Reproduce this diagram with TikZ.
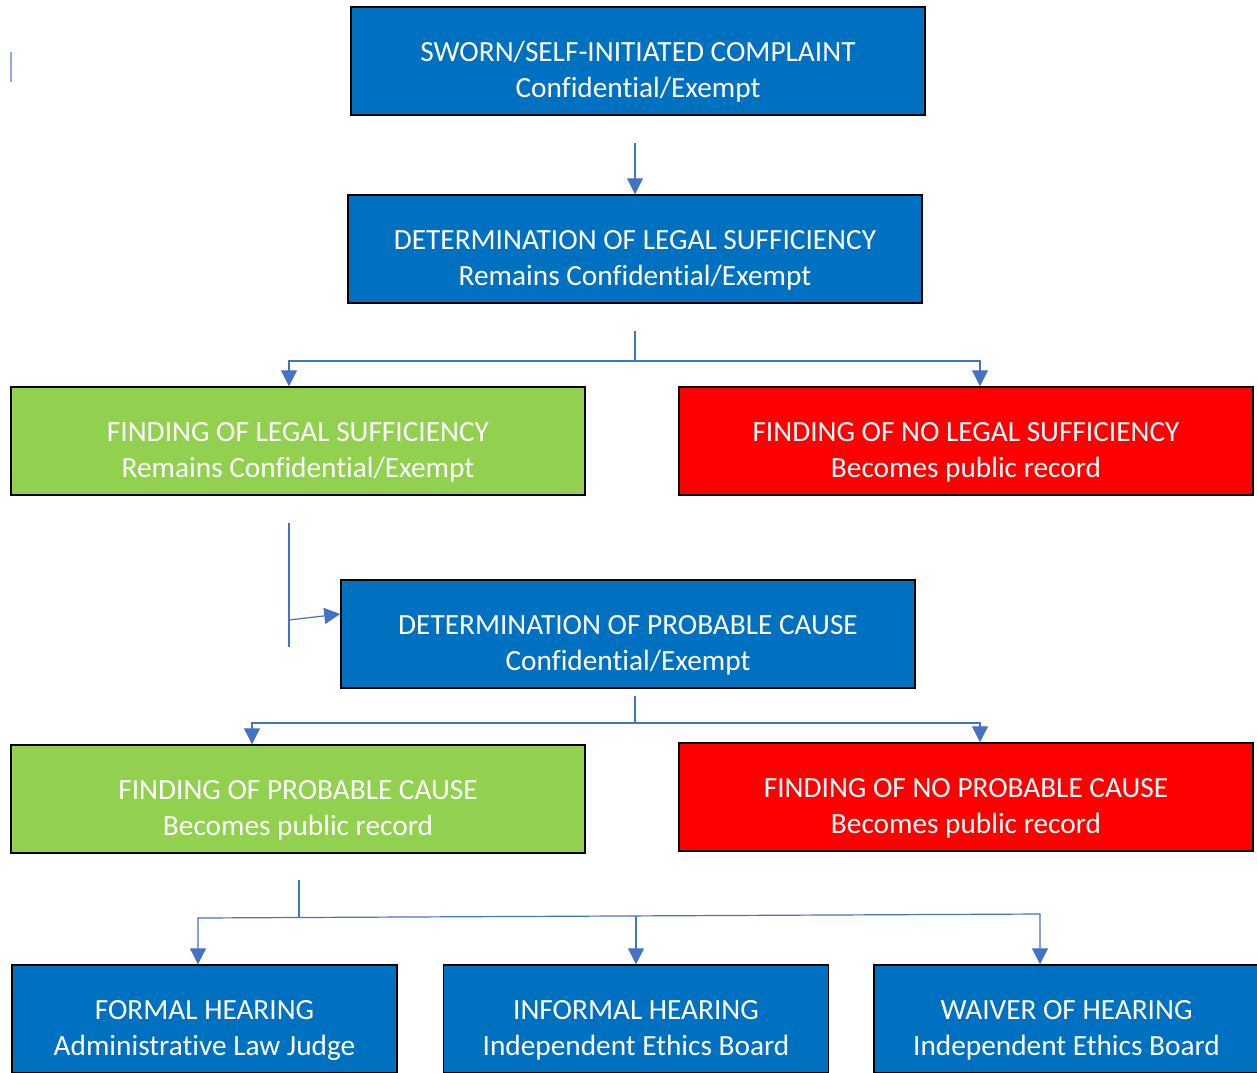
\documentclass[tikz,border=0pt]{standalone}
\usepackage{fontspec}
\setmainfont{Carlito}[Ligatures={NoCommon}]
\usetikzlibrary{arrows.meta}
\definecolor{boxblue}{HTML}{0070C0}
\definecolor{boxgreen}{HTML}{92D050}
\definecolor{boxred}{HTML}{FF0000}
\definecolor{linkblue}{HTML}{4472C4}
\definecolor{markblue}{HTML}{8FAADC}
\newcommand{\boxlines}[2]{\raisebox{-11pt}[\height][\depth]{\begin{tabular}{@{}c@{}}#1\\#2\end{tabular}}}
\begin{document}
\begin{tikzpicture}[x=1pt,y=-1pt,
	stage/.style={draw=black, line width=1.5pt, minimum width=574pt, minimum height=108pt, inner sep=0pt, text=white, font=\fontsize{29.3}{36}\selectfont},
	hearing/.style={stage, fill=boxblue, minimum width=385pt},
	wire/.style={linkblue, line width=1.2pt},
	link/.style={wire, -{Triangle[length=16pt,width=16pt]}}]
	\useasboundingbox (0,0) rectangle (1257,1072);
	\clip (0,0) rectangle (1257,1072);
	% Boxes
	\node[stage, fill=boxblue] (complaint) at (638,61) {\boxlines{SWORN/SELF-INITIATED COMPLAINT}{Confidential/Exempt}};
	\node[stage, fill=boxblue] (legal) at (635,249) {\boxlines{DETERMINATION OF LEGAL SUFFICIENCY}{Remains Confidential/Exempt}};
	\node[stage, fill=boxgreen] (legalyes) at (298,441) {\boxlines{FINDING OF LEGAL SUFFICIENCY}{Remains Confidential/Exempt}};
	\node[stage, fill=boxred] (legalno) at (966,441) {\boxlines{FINDING OF NO LEGAL SUFFICIENCY}{Becomes public record}};
	\node[stage, fill=boxblue] (cause) at (628,634) {\boxlines{DETERMINATION OF PROBABLE CAUSE}{Confidential/Exempt}};
	\node[stage, fill=boxgreen] (causeyes) at (298,799) {\boxlines{FINDING OF PROBABLE CAUSE}{Becomes public record}};
	\node[stage, fill=boxred] (causeno) at (966,797) {\boxlines{FINDING OF NO PROBABLE CAUSE}{Becomes public record}};
	\node[hearing] (formal) at (204.5,1019) {\boxlines{FORMAL HEARING}{Administrative Law Judge}};
	\node[hearing] (informal) at (636,1019) {\boxlines{INFORMAL HEARING}{Independent Ethics Board}};
	\node[hearing] (waiver) at (1066.5,1019) {\boxlines{WAIVER OF HEARING}{Independent Ethics Board}};
	% Mark
	\draw[markblue, line width=1.5pt] (11,52) -- (11,82);
	% Complaint to legal
	\coordinate (c1) at (635,143);
	\draw[link] (c1) -- (legal.north);
	% Legal split
	\coordinate (c2) at (635,331);
	\coordinate (c2m) at (635,361);
	\coordinate (c2l) at (289,361);
	\coordinate (c2r) at (980,361);
	\draw[wire] (c2) -- (c2m);
	\draw[link] (c2m) -- (c2l) -- (c2l |- legalyes.north);
	\draw[link] (c2m) -- (c2r) -- (c2r |- legalno.north);
	% Sufficiency to cause
	\coordinate (c3t) at (289,523);
	\coordinate (c3b) at (289,647);
	\coordinate (c3) at (289,620);
	\draw[wire] (c3t) -- (c3b);
	\draw[link] (c3) -- ([yshift=20pt]cause.west);
	% Cause split
	\coordinate (c4) at (635,696);
	\coordinate (c4m) at (635,723);
	\coordinate (c4l) at (252,723);
	\coordinate (c4r) at (980,723);
	\draw[wire] (c4) -- (c4m);
	\draw[link] (c4m) -- (c4l) -- (c4l |- causeyes.north);
	\draw[link] (c4m) -- (c4r) -- (c4r |- causeno.north);
	% Hearings split
	\coordinate (c5) at (299,880);
	\coordinate (c5m) at (299,917.5);
	\coordinate (c5l) at (198,918);
	\coordinate (c5r) at (1040,914);
	\coordinate (c5c) at (636,916);
	\draw[wire] (c5) -- (c5m);
	\draw[link] (c5m) -- (c5l) -- (c5l |- formal.north);
	\draw[link] (c5m) -- (c5r) -- (c5r |- waiver.north);
	\draw[link] (c5c) -- (informal.north);
\end{tikzpicture}
\end{document}
